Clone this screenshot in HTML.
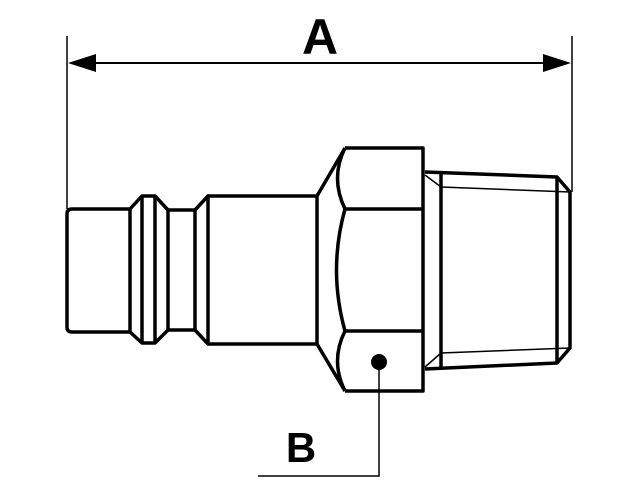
<!DOCTYPE html>
<html><head><style>html,body{margin:0;padding:0;background:#fff;}svg{display:block}</style></head>
<body>
<svg width="640" height="480" viewBox="0 0 640 480" xmlns="http://www.w3.org/2000/svg">
<rect width="640" height="480" fill="#fff"/>
<g stroke="#000" fill="none" stroke-linejoin="round">
<!-- dimension A -->
<line x1="67" y1="36" x2="67" y2="209" stroke-width="1.5"/>
<line x1="572" y1="36" x2="572" y2="192" stroke-width="1.5"/>
<line x1="90" y1="63" x2="548" y2="63" stroke-width="2"/>
</g>
<polygon points="68,63 96,54 96,72" fill="#000"/>
<polygon points="571,63 543,54 543,72" fill="#000"/>
<text x="320" y="54" font-family="Liberation Sans, sans-serif" font-weight="bold" font-size="50" text-anchor="middle">A</text>
<g stroke="#000" fill="none" stroke-width="3.5" stroke-linejoin="round">
<!-- nose -->
<path d="M130,209 H72 Q67,209 67,214 V327 Q67,332 72,332 H130"/>
<path d="M130,209 L142,196 H155 L168,210 V330 L155,343 H142 L130,332 Z"/>
<line x1="142" y1="196" x2="142" y2="343"/>
<line x1="155" y1="196" x2="155" y2="343"/>
<path d="M168,210 H195 M168,330 H195"/>
<path d="M195,210 L208,196 V344 L195,330 Z"/>
<path d="M208,196 H317 V344 H208"/>
<!-- cone -->
<path d="M317,196 L345,148 M317,344 L345,391"/>
<!-- hex -->
<path d="M345,148 H423 V391 H345"/>
<path d="M345,209 H423 M345,331 H423"/>
<path d="M345,148 Q330,178 345,209"/>
<path d="M345,209 Q328,270 345,331"/>
<path d="M345,331 Q330,361 345,391"/>
<!-- thread -->
<path d="M425,172 L557,177 L570,192 V348 L557,363 L425,369"/>
<line x1="441" y1="173" x2="441" y2="369"/>
<line x1="557" y1="177" x2="557" y2="363"/>
</g>
<g stroke="#000" fill="none" stroke-width="1.5">
<path d="M425,175 L441,187 L570,192"/>
<path d="M425,367 L441,353 L570,348"/>
<path d="M379,362 V476 H258"/>
</g>
<circle cx="379" cy="362" r="8" fill="#000"/>
<text x="301" y="462" font-family="Liberation Sans, sans-serif" font-weight="bold" font-size="42" text-anchor="middle">B</text>
</svg>
</body></html>
